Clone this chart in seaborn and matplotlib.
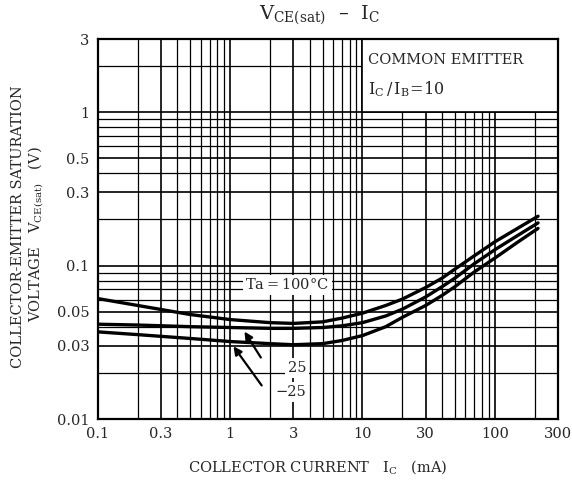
import numpy as np
import pandas as pd
import matplotlib
matplotlib.use("Agg")
import matplotlib.pyplot as plt
from matplotlib.patches import Rectangle
from matplotlib.ticker import FixedLocator, NullFormatter
import seaborn as sns

# collector current (mA) and V_CE(sat) (V)
ic_ma = [0.1, 0.2, 0.5, 1, 2, 3, 5, 7, 10, 15, 20, 30, 40, 50, 70, 100, 150, 212]
v_100 = [0.061, 0.055, 0.048, 0.0445, 0.0425, 0.042, 0.043, 0.0455, 0.049, 0.055,
         0.0605, 0.072, 0.083, 0.095, 0.116, 0.143, 0.176, 0.21]
v_25 = [0.0415, 0.041, 0.040, 0.0395, 0.039, 0.039, 0.0395, 0.0405, 0.0425, 0.047,
        0.052, 0.0625, 0.073, 0.083, 0.103, 0.127, 0.158, 0.19]
v_m25 = [0.037, 0.0355, 0.0335, 0.032, 0.031, 0.0305, 0.031, 0.0325, 0.035, 0.040,
         0.046, 0.055, 0.064, 0.073, 0.091, 0.112, 0.143, 0.175]

x_ticks = [0.1, 0.3, 1, 3, 10, 30, 100, 300]
x_labels = ["0.1", "0.3", "1", "3", "10", "30", "100", "300"]
y_ticks = [0.01, 0.03, 0.05, 0.1, 0.3, 0.5, 1, 3]
y_labels = ["0.01", "0.03", "0.05", "0.1", "0.3", "0.5", "1", "3"]

df = pd.concat([
    pd.DataFrame({"ic": ic_ma, "v": v_100, "Ta": "100"}),
    pd.DataFrame({"ic": ic_ma, "v": v_25, "Ta": "25"}),
    pd.DataFrame({"ic": ic_ma, "v": v_m25, "Ta": "-25"}),
])

sns.set_style("white")
plt.rcParams['font.family'] = ['DejaVu Serif']
plt.rcParams['mathtext.fontset'] = 'dejavuserif'

fig = plt.figure(figsize=(5.72, 4.83), dpi=100)
ax = fig.add_axes([0.171, 0.1325, 0.8045, 0.7865])

ax.set_xscale('log')
ax.set_yscale('log')
ax.set_xlim(0.1, 300)
ax.set_ylim(0.01, 3)

# log-paper grid
minor_x = [m * d for d in [0.1, 1, 10, 100] for m in range(2, 10) if m * d < 300]
minor_y = [m * d for d in [0.01, 0.1, 1] for m in range(2, 10) if m * d < 3]
ax.xaxis.set_minor_locator(FixedLocator(minor_x))
ax.yaxis.set_minor_locator(FixedLocator(minor_y))
ax.xaxis.set_minor_formatter(NullFormatter())
ax.yaxis.set_minor_formatter(NullFormatter())
ax.set_xticks(x_ticks, x_labels)
ax.set_yticks(y_ticks, y_labels)
ax.grid(which='major', color='black', linewidth=1.2, zorder=0)
ax.grid(which='minor', color='black', linewidth=0.9, zorder=0)
ax.set_axisbelow(True)
ax.tick_params(which='both', length=0, labelsize=10.5, pad=6)
for sp in ax.spines.values():
    sp.set_color('black')
    sp.set_linewidth(1.6)

sns.lineplot(data=df, x="ic", y="v", hue="Ta", palette=["black"] * 3,
             linewidth=2.4, legend=False, sort=False, ax=ax, zorder=3)

# white box with the test condition
ax.add_patch(Rectangle((10, 1), 290, 2, facecolor='white', edgecolor='black',
                       linewidth=1.2, zorder=2))
ax.text(11, 2.2, "COMMON EMITTER", fontsize=10.5, va='center', ha='left', zorder=4)
ax.text(11, 1.42, r"$\mathregular{I_C\,/\,I_B\!=\!10}$", fontsize=11.5,
        va='center', ha='left', zorder=4)

white = dict(facecolor='white', edgecolor='none', pad=2)
ax.text(2.7, 0.075, "Ta$\\mathregular{=}$100°C", fontsize=10.5, ha='center', va='center',
        zorder=4, bbox=white)
ax.text(3.2, 0.0215, "25", fontsize=10.5, ha='center', va='center', zorder=4, bbox=white)
ax.text(2.85, 0.015, "−25", fontsize=10.5, ha='center', va='center', zorder=4, bbox=white)

arrow = dict(arrowstyle='-|>', color='black', linewidth=1.6, mutation_scale=12)
ax.annotate("", xy=(1.25, 0.0385), xytext=(1.75, 0.0243), arrowprops=arrow, zorder=5)
ax.annotate("", xy=(1.03, 0.0308), xytext=(1.78, 0.016), arrowprops=arrow, zorder=5)

ax.set_xlabel("")
ax.set_ylabel("")

fig.text(0.558, 0.968, r"$\mathregular{V_{CE(sat)}}$  –  $\mathregular{I_C}$",
         fontsize=14, ha='center', va='center')
fig.text(0.555, 0.033, r"COLLECTOR CURRENT   $\mathregular{I_C}$   (mA)",
         fontsize=10.5, ha='center', va='center')
fig.text(0.032, 0.53, "COLLECTOR-EMITTER SATURATION", fontsize=10.5,
         rotation=90, ha='center', va='center')
fig.text(0.063, 0.515, r"VOLTAGE   $\mathregular{V_{CE(sat)}}$   (V)", fontsize=10.5,
         rotation=90, ha='center', va='center')

fig.savefig("out.png", dpi=100)
